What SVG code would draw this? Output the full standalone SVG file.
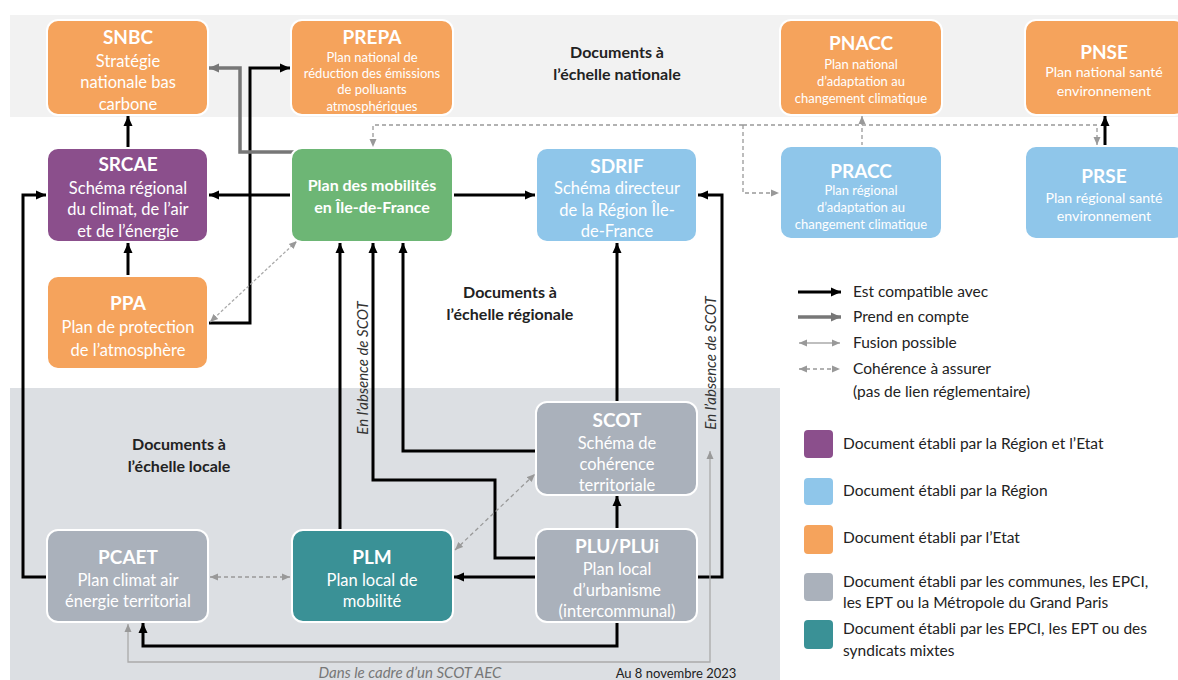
<svg xmlns="http://www.w3.org/2000/svg" width="1178" height="680" viewBox="0 0 1178 680">
<defs>
<style>
text{font-family:Lato,"Open Sans","Liberation Sans",sans-serif}
.node rect{stroke:#fff;stroke-width:2}
.t{fill:#fff;font-weight:bold;font-size:19px;text-anchor:middle}
.b{fill:#fff;font-size:16.5px;text-anchor:middle}
.s{fill:#fff;font-size:13px;text-anchor:middle}
.m{fill:#fff;font-size:14.2px;text-anchor:middle}
.sec{fill:#222;font-weight:bold;font-size:16px;text-anchor:middle}
.k{fill:none;stroke:#000;stroke-width:3}
.g{fill:none;stroke:#777;stroke-width:3.5}
.d{fill:none;stroke:#999;stroke-width:1.3;stroke-dasharray:4 3}
.f{fill:none;stroke:#aaa;stroke-width:1.3}
.lg{fill:#222;font-size:15.5px}
.it{font-style:italic;font-size:15px;fill:#333}
.orange{fill:#f5a35c}.purple{fill:#8b4f8c}.green{fill:#6db675}.blue{fill:#8fc6ea}.grey{fill:#aab1bb}.teal{fill:#3a9196}
</style>
<marker id="ak" markerUnits="userSpaceOnUse" markerWidth="10" markerHeight="10" refX="10" refY="5" orient="auto"><path d="M0,0.5 L10,5 L0,9.5 z" fill="#000"/></marker>
<marker id="ag" markerUnits="userSpaceOnUse" markerWidth="10" markerHeight="10" refX="10" refY="5" orient="auto"><path d="M0,0.5 L10,5 L0,9.5 z" fill="#777"/></marker>
<marker id="al" markerUnits="userSpaceOnUse" markerWidth="8" markerHeight="8" refX="8" refY="4" orient="auto-start-reverse"><path d="M0,0.5 L8,4 L0,7.5 z" fill="#999"/></marker>
</defs>
<rect width="1178" height="680" fill="#fff"/>
<rect x="10" y="15" width="1168" height="102" fill="#f2f2f2"/>
<rect x="10" y="388" width="770" height="292" fill="#dcdfe3"/>

<g id="section-labels">
<text class="sec" x="617" y="58">Documents à</text>
<text class="sec" x="617" y="80">l’échelle nationale</text>
<text class="sec" x="510" y="298">Documents à</text>
<text class="sec" x="510" y="320">l’échelle régionale</text>
<text class="sec" x="179" y="450">Documents à</text>
<text class="sec" x="179" y="472">l’échelle locale</text>
</g>

<g id="connectors">
<path class="k" d="M128,148 V116" marker-end="url(#ak)"/>
<path class="k" d="M128,276 V243" marker-end="url(#ak)"/>
<path class="k" d="M208,323 H250 V68 H290" marker-end="url(#ak)"/>
<path class="k" d="M291,195 H209" marker-end="url(#ak)"/>
<path class="k" d="M453,195 H535" marker-end="url(#ak)"/>
<path class="k" d="M47,577 H23 V195 H46" marker-end="url(#ak)"/>
<path class="k" d="M340,530 V243" marker-end="url(#ak)"/>
<path class="k" d="M536,558 H495 V480 H373 V243" marker-end="url(#ak)"/>
<path class="k" d="M536,451 H403 V243" marker-end="url(#ak)"/>
<path class="k" d="M617,402 V243" marker-end="url(#ak)"/>
<path class="k" d="M697,577 H722 V195 H698" marker-end="url(#ak)"/>
<path class="k" d="M617,529 V496" marker-end="url(#ak)"/>
<path class="k" d="M536,577 H454" marker-end="url(#ak)"/>
<path class="k" d="M617,622 V646 H143 V623" marker-end="url(#ak)"/>
<path class="k" d="M1105,146 V116" marker-end="url(#ak)"/>
<path class="g" d="M297,152 H240 V68 H209" marker-end="url(#ag)"/>
<path class="d" d="M743,125 H373 V147" marker-end="url(#al)"/>
<path class="d" d="M743,125 H1097 V145" marker-end="url(#al)"/>
<path class="d" d="M743,125 V193 H779" marker-end="url(#al)"/>
<path class="d" d="M862,146 V116" marker-end="url(#al)"/>
<path class="d" d="M210,577 H290" marker-start="url(#al)" marker-end="url(#al)"/>
<path class="d" d="M455,550 L535,474" marker-start="url(#al)" marker-end="url(#al)"/>
<path class="f" d="M210,322 L297,241" stroke-dasharray="3 2" marker-start="url(#al)" marker-end="url(#al)"/>
<path class="f" d="M710,451 V662 H128 V624" marker-start="url(#al)" marker-end="url(#al)"/>
<text class="it" transform="translate(368,368) rotate(-90)" text-anchor="middle">En l’absence de SCOT</text>
<text class="it" transform="translate(716,363) rotate(-90)" text-anchor="middle">En l’absence de SCOT</text>
<text class="it" x="410" y="678" text-anchor="middle" style="fill:#777">Dans le cadre d’un SCOT AEC</text>
</g>

<g id="SNBC" class="node"><rect class="orange" x="47" y="20" width="161" height="95" rx="11"/>
<text class="t" x="128" y="44">SNBC</text><text class="b" x="128" y="67">Stratégie</text><text class="b" x="128" y="88">nationale bas</text><text class="b" x="128" y="110">carbone</text></g>

<g id="PREPA" class="node"><rect class="orange" x="291" y="20" width="162" height="95" rx="11"/>
<text class="t" x="372" y="44">PREPA</text><text class="s" x="372" y="62">Plan national de</text><text class="s" x="372" y="78">réduction des émissions</text><text class="s" x="372" y="94">de polluants</text><text class="s" x="372" y="111">atmosphériques</text></g>

<g id="PNACC" class="node"><rect class="orange" x="780" y="20" width="162" height="95" rx="11"/>
<text class="t" x="861" y="50">PNACC</text><text class="s" x="861" y="69">Plan national</text><text class="s" x="861" y="86">d’adaptation au</text><text class="s" x="861" y="103">changement climatique</text></g>

<g id="PNSE" class="node"><rect class="orange" x="1025" y="20" width="160" height="95" rx="11"/>
<text class="t" x="1104" y="59">PNSE</text><text class="m" x="1104" y="77">Plan national santé</text><text class="m" x="1104" y="96">environnement</text></g>

<g id="SRCAE" class="node"><rect class="purple" x="47" y="148" width="161" height="94" rx="11"/>
<text class="t" x="128" y="171">SRCAE</text><text class="b" x="128" y="194">Schéma régional</text><text class="b" x="128" y="215">du climat, de l’air</text><text class="b" x="128" y="237">et de l’énergie</text></g>

<g id="PDM" class="node"><rect class="green" x="291" y="148" width="162" height="94" rx="11"/>
<text class="b" x="372" y="191" style="font-weight:bold;font-size:16px">Plan des mobilités</text><text class="b" x="372" y="213" style="font-weight:bold;font-size:16px">en Île-de-France</text></g>

<g id="SDRIF" class="node"><rect class="blue" x="536" y="148" width="161" height="94" rx="11"/>
<text class="t" x="617" y="173">SDRIF</text><text class="b" x="617" y="194">Schéma directeur</text><text class="b" x="617" y="216">de la Région Île-</text><text class="b" x="617" y="237">de-France</text></g>

<g id="PRACC" class="node"><rect class="blue" x="780" y="146" width="162" height="93" rx="11"/>
<text class="t" x="861" y="178">PRACC</text><text class="s" x="861" y="195">Plan régional</text><text class="s" x="861" y="212">d’adaptation au</text><text class="s" x="861" y="229">changement climatique</text></g>

<g id="PRSE" class="node"><rect class="blue" x="1025" y="146" width="160" height="93" rx="11"/>
<text class="t" x="1104" y="183">PRSE</text><text class="m" x="1104" y="203">Plan régional santé</text><text class="m" x="1104" y="221">environnement</text></g>

<g id="PPA" class="node"><rect class="orange" x="47" y="276" width="161" height="93" rx="11"/>
<text class="t" x="128" y="310">PPA</text><text class="b" x="128" y="333">Plan de protection</text><text class="b" x="128" y="356">de l’atmosphère</text></g>

<g id="SCOT" class="node"><rect class="grey" x="536" y="402" width="161" height="93" rx="11"/>
<text class="t" x="617" y="427">SCOT</text><text class="b" x="617" y="449">Schéma de</text><text class="b" x="617" y="470">cohérence</text><text class="b" x="617" y="491">territoriale</text></g>

<g id="PLU" class="node"><rect class="grey" x="536" y="529" width="161" height="93" rx="11"/>
<text class="t" x="617" y="553">PLU/PLUi</text><text class="b" x="617" y="575">Plan local</text><text class="b" x="617" y="596">d’urbanisme</text><text class="b" x="617" y="617">(intercommunal)</text></g>

<g id="PCAET" class="node"><rect class="grey" x="47" y="530" width="161" height="92" rx="11"/>
<text class="t" x="128" y="564">PCAET</text><text class="b" x="128" y="586">Plan climat air</text><text class="b" x="128" y="607">énergie territorial</text></g>

<g id="PLM" class="node"><rect class="teal" x="292" y="530" width="161" height="92" rx="11"/>
<text class="t" x="372" y="564">PLM</text><text class="b" x="372" y="586">Plan local de</text><text class="b" x="372" y="607">mobilité</text></g>

<g id="legend">
<path class="k" d="M798,292 H841" marker-end="url(#ak)"/>
<path class="g" d="M798,317 H841" marker-end="url(#ag)"/>
<path class="f" d="M799,343 H840" marker-start="url(#al)" marker-end="url(#al)"/>
<path class="d" d="M799,369 H840" marker-start="url(#al)" marker-end="url(#al)"/>
<text class="lg" x="853" y="297">Est compatible avec</text>
<text class="lg" x="853" y="322">Prend en compte</text>
<text class="lg" x="853" y="348">Fusion possible</text>
<text class="lg" x="853" y="374">Cohérence à assurer</text>
<text class="lg" x="853" y="397">(pas de lien réglementaire)</text>
<rect class="purple" x="804" y="430" width="29" height="28" rx="4"/>
<rect class="blue" x="804" y="478" width="29" height="27" rx="4"/>
<rect class="orange" x="804" y="525" width="29" height="29" rx="4"/>
<rect class="grey" x="804" y="573" width="29" height="28" rx="4"/>
<rect class="teal" x="804" y="620" width="29" height="29" rx="4"/>
<text class="lg" x="843" y="449">Document établi par la Région et l’Etat</text>
<text class="lg" x="843" y="496">Document établi par la Région</text>
<text class="lg" x="843" y="543">Document établi par l’Etat</text>
<text class="lg" x="843" y="587">Document établi par les communes, les EPCI,</text>
<text class="lg" x="843" y="608">les EPT ou la Métropole du Grand Paris</text>
<text class="lg" x="843" y="634">Document établi par les EPCI, les EPT ou des</text>
<text class="lg" x="843" y="656">syndicats mixtes</text>
<text x="676" y="678" text-anchor="middle" style="font-size:13px;fill:#222">Au 8 novembre 2023</text>
</g>
</svg>
